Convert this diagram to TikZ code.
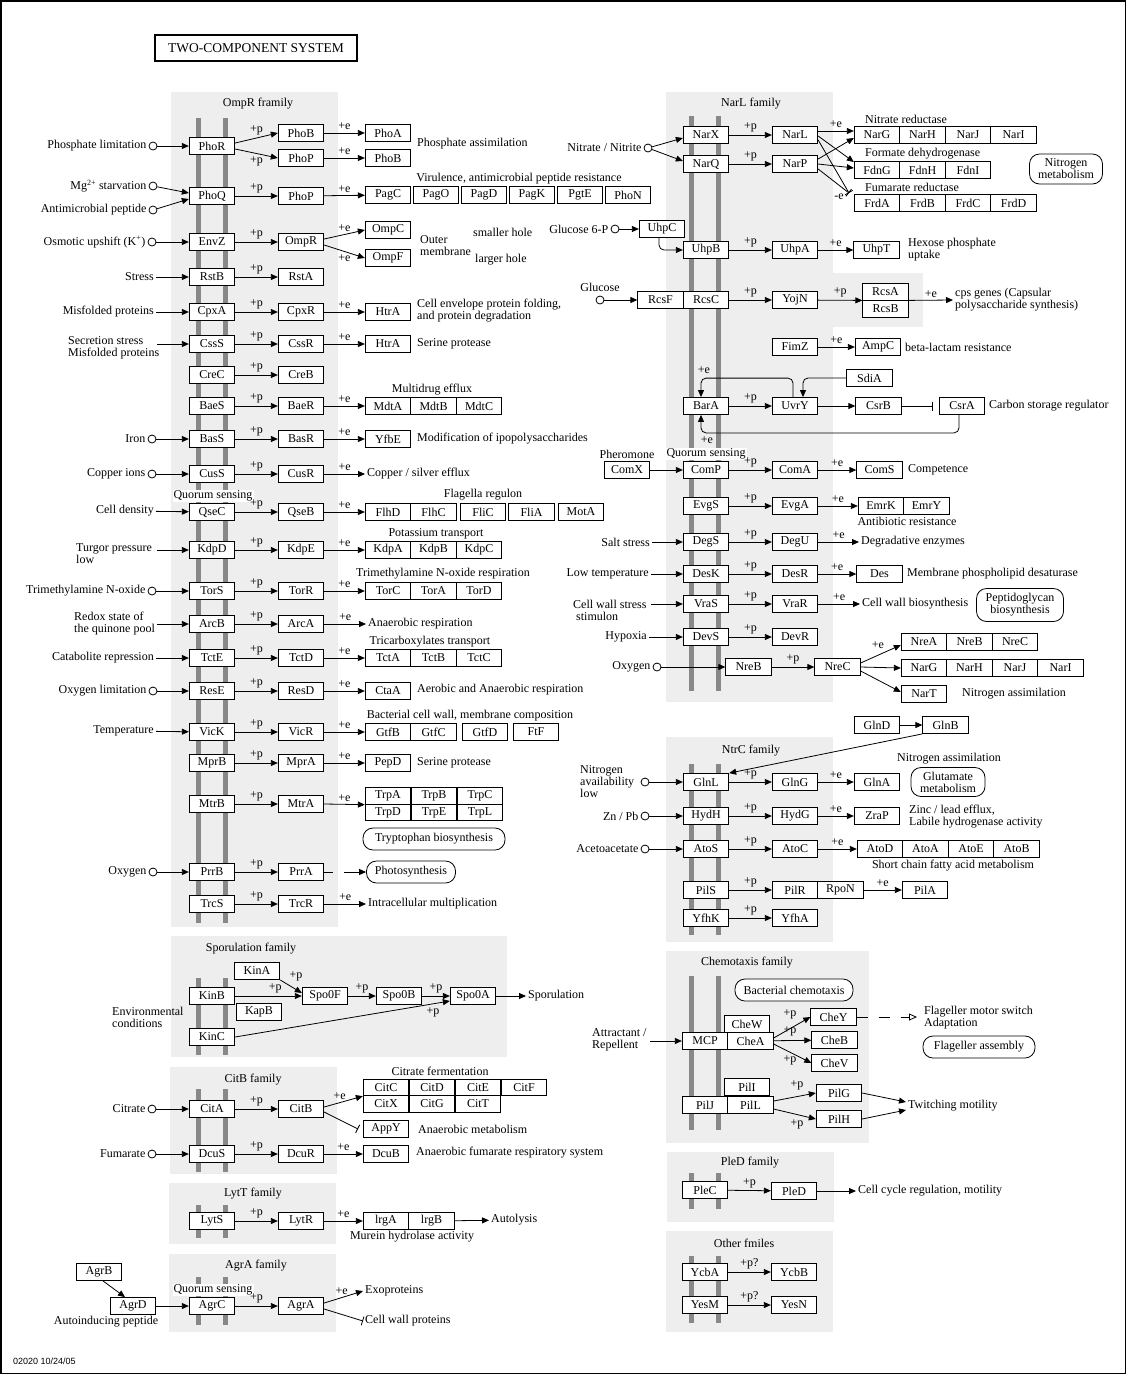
\documentclass[tikz,border=0pt]{standalone}
\usepackage{fontspec}
\setmainfont{Liberation Serif}
\newfontfamily\datefont{Liberation Sans}
\usetikzlibrary{arrows.meta, positioning, calc}
\definecolor{panelgray}{HTML}{EEEEEE}
\definecolor{bargray}{HTML}{888888}
\newcommand{\kfont}{\fontsize{12}{12}\selectfont}

\begin{document}
\begin{tikzpicture}[x=1pt, y=-1pt,
    gene/.style={rectangle, draw, fill=white, line width=0.8pt, minimum width=45.5, minimum height=17, inner sep=0pt, font=\kfont},
    mapbox/.style={rectangle, draw, fill=white, line width=0.8pt, rounded corners=10pt, inner sep=0pt, align=center, font=\kfont},
    stim/.style={circle, draw, fill=white, line width=0.8pt, inner sep=0pt, minimum size=8},
    txt/.style={font=\kfont, inner sep=2pt, align=center},
    ltxt/.style={font=\kfont, inner sep=2pt, anchor=west, align=left},
    rtxt/.style={font=\kfont, inner sep=2pt, anchor=east, align=right},
    lab/.style={font=\kfont, inner sep=1pt},
    qs/.style={font=\kfont, inner sep=1pt, fill=white},
    pp/.style={font=\kfont, inner sep=1pt, above=1.5pt},
    ppb/.style={font=\kfont, inner sep=1pt, below=1.5pt},
    panel/.style={fill=panelgray},
    mem/.style={draw=bargray, line width=5pt},
    act/.style={-{Triangle[length=7pt, width=6pt]}, line width=0.8pt},
    inh/.style={-{Bar[width=9pt]}, line width=0.8pt}
]
\useasboundingbox (0,0) rectangle (1126,1374);
\draw[line width=1.5pt] (0.75,0.75) rectangle (1125.25,1373.25);

% Title
\node[draw, line width=1.5pt, minimum width=202, minimum height=26, font=\fontsize{13.5}{14}\selectfont] (title) at (256,48) {TWO-COMPONENT SYSTEM};

% ---------- OmpR family ----------
\fill[panel] (171,92) rectangle (338,927);
\node[lab] (f-ompr) at (258,104) {OmpR framily};
\draw[mem] (198,118) -- (198,923);
\draw[mem] (225,118) -- (225,923);

% PhoR / PhoB, PhoP
\node[gene] (PhoR) at (212,146) {PhoR};
\node[gene] (PhoB) at (301,133) {PhoB};
\node[gene] (PhoP) at (301,158) {PhoP};
\node[gene] (PhoA) at (388,133) {PhoA};
\node[gene] (PhoB-t) at (388,158) {PhoB};
\node[stim] (c-phos) at (153,146) {};
\node[rtxt] (s-phos) at (c-phos.west) {Phosphate limitation};
\draw[act] (c-phos) -- (PhoR);
\draw[act] ($(PhoR.east)+(0,-3)$) -- node[pp]{+p} (PhoB.west);
\draw[act] ($(PhoR.east)+(0,3)$) -- node[ppb]{+p} (PhoP.west);
\draw[act] (PhoB) -- node[pp]{+e} (PhoA);
\draw[act] (PhoP) -- node[pp]{+e} (PhoB-t);
\node[ltxt] (t-phos) at (415,144) {Phosphate assimilation};

% PhoQ / PhoP
\node[gene] (PhoQ) at (212,196) {PhoQ};
\node[gene] (PhoP-2) at (301,196) {PhoP};
\foreach \g [count=\i from 0] in {PagC,PagO,PagD,PagK,PgtE,PhoN}
  \node[gene] (\g) at (388+48*\i,195) {\g};
\node[stim] (c-mg) at (153,186) {};
\node[rtxt] (s-mg) at (c-mg.west) {Mg\textsuperscript{2+} starvation};
\node[stim] (c-amp) at (153,210) {};
\node[rtxt] (s-amp) at (c-amp.west) {Antimicrobial peptide};
\draw[act] (c-mg) -- ($(PhoQ.west)+(0,-3)$);
\draw[act] (c-amp) -- ($(PhoQ.west)+(0,3)$);
\draw[act] (PhoQ) -- node[pp]{+p} (PhoP-2);
\draw[act] (PhoP-2) -- node[pp]{+e} (PagC);
\node[txt] (t-vir) at (519,179) {Virulence, antimicrobial peptide resistance};

% EnvZ / OmpR
\node[gene] (EnvZ) at (212,242) {EnvZ};
\node[gene] (OmpR) at (301,242) {OmpR};
\node[gene] (OmpC) at (388,230) {OmpC};
\node[gene] (OmpF) at (388,258) {OmpF};
\node[stim] (c-osm) at (152,242) {};
\node[rtxt] (s-osm) at (c-osm.west) {Osmotic upshift (K\textsuperscript{+})};
\draw[act] (c-osm) -- (EnvZ);
\draw[act] (EnvZ) -- node[pp]{+p} (OmpR);
\draw[act] ($(OmpR.east)+(0,-3)$) -- node[pp]{+e} (OmpC.west);
\draw[act] ($(OmpR.east)+(0,3)$) -- node[ppb]{+e} (OmpF.west);
\node[ltxt] (t-outer) at (418,246) {Outer\\membrane};
\node[ltxt] (t-small) at (471,232) {smaller hole};
\node[ltxt] (t-large) at (473,260) {larger hole};

% RstB / RstA
\node[gene] (RstB) at (212,277) {RstB};
\node[gene] (RstA) at (301,277) {RstA};
\node[rtxt] (s-stress) at (156,277) {Stress};
\draw[act] (s-stress) -- (RstB);
\draw[act] (RstB) -- node[pp]{+p} (RstA);

% CpxA / CpxR
\node[gene] (CpxA) at (212,312) {CpxA};
\node[gene] (CpxR) at (301,312) {CpxR};
\node[gene] (HtrA) at (388,312) {HtrA};
\node[rtxt] (s-misf) at (156,312) {Misfolded proteins};
\draw[act] (s-misf) -- (CpxA);
\draw[act] (CpxA) -- node[pp]{+p} (CpxR);
\draw[act] (CpxR) -- node[pp]{+e} (HtrA);
\node[ltxt] (t-cpx) at (415,311) {Cell envelope protein folding,\\and protein degradation};

% CssS / CssR
\node[gene] (CssS) at (212,344) {CssS};
\node[gene] (CssR) at (301,344) {CssR};
\node[gene] (HtrA-2) at (388,344) {HtrA};
\node[ltxt] (s-secr) at (66,348) {Secretion stress\\Misfolded proteins};
\coordinate (secr-out) at (157,344);
\draw[act] (secr-out) -- (CssS);
\draw[act] (CssS) -- node[pp]{+p} (CssR);
\draw[act] (CssR) -- node[pp]{+e} (HtrA-2);
\node[ltxt] (t-css) at (415,344) {Serine protease};

% CreC / CreB
\node[gene] (CreC) at (212,375) {CreC};
\node[gene] (CreB) at (301,375) {CreB};
\draw[act] (CreC) -- node[pp]{+p} (CreB);

% BaeS / BaeR
\node[gene] (BaeS) at (212,406) {BaeS};
\node[gene] (BaeR) at (301,406) {BaeR};
\foreach \g [count=\i from 0] in {MdtA,MdtB,MdtC}
  \node[gene] (\g) at (388+45.5*\i,406) {\g};
\node[lab] (t-mdt) at (432,390) {Multidrug efflux};
\draw[act] (BaeS) -- node[pp]{+p} (BaeR);
\draw[act] (BaeR) -- node[pp]{+e} (MdtA);

% BasS / BasR
\node[gene] (BasS) at (212,439) {BasS};
\node[gene] (BasR) at (301,439) {BasR};
\node[gene] (YfbE) at (388,439) {YfbE};
\node[stim] (c-iron) at (152,439) {};
\node[rtxt] (s-iron) at (c-iron.west) {Iron};
\draw[act] (c-iron) -- (BasS);
\draw[act] (BasS) -- node[pp]{+p} (BasR);
\draw[act] (BasR) -- node[pp]{+e} (YfbE);
\node[ltxt] (t-bas) at (415,439) {Modification of ipopolysaccharides};

% CusS / CusR
\node[gene] (CusS) at (212,474) {CusS};
\node[gene] (CusR) at (301,474) {CusR};
\node[stim] (c-cu) at (152,474) {};
\node[rtxt] (s-cu) at (c-cu.west) {Copper ions};
\node[ltxt] (t-cus) at (365,474) {Copper / silver efflux};
\draw[act] (c-cu) -- (CusS);
\draw[act] (CusS) -- node[pp]{+p} (CusR);
\draw[act] (CusR) -- node[pp]{+e} (t-cus);

% QseC / QseB
\node[gene] (QseC) at (212,512) {QseC};
\node[gene] (QseB) at (301,512) {QseB};
\node[qs] (q-qse) at (213,496) {Quorum sensing};
\node[gene] (FlhD) at (388,512) {FlhD};
\node[gene] (FlhC) at (433.5,512) {FlhC};
\node[gene] (FliC) at (483,512) {FliC};
\node[gene] (FliA) at (531.5,512) {FliA};
\node[gene] (MotA) at (581,512) {MotA};
\node[lab] (t-fla) at (483,495) {Flagella regulon};
\node[rtxt] (s-cell) at (156,511) {Cell density};
\draw[act] (s-cell) -- (QseC);
\draw[act] (QseC) -- node[pp]{+p} (QseB);
\draw[act] (QseB) -- node[pp]{+e} (FlhD);

% KdpD / KdpE
\node[gene] (KdpD) at (212,550) {KdpD};
\node[gene] (KdpE) at (301,550) {KdpE};
\foreach \g [count=\i from 0] in {KdpA,KdpB,KdpC}
  \node[gene] (\g) at (388+45.5*\i,550) {\g};
\node[lab] (t-kdp) at (436,534) {Potassium transport};
\node[ltxt] (s-turg) at (74,554) {Turgor pressure\\low};
\coordinate (turg-out) at (157,550);
\draw[act] (turg-out) -- (KdpD);
\draw[act] (KdpD) -- node[pp]{+p} (KdpE);
\draw[act] (KdpE) -- node[pp]{+e} (KdpA);

% TorS / TorR
\node[gene] (TorS) at (212,591) {TorS};
\node[gene] (TorR) at (301,591) {TorR};
\foreach \g [count=\i from 0] in {TorC,TorA,TorD}
  \node[gene] (\g) at (388+45.5*\i,591) {\g};
\node[lab] (t-tor) at (443,574) {Trimethylamine N-oxide respiration};
\node[stim] (c-tmao) at (152,591) {};
\node[rtxt] (s-tmao) at (c-tmao.west) {Trimethylamine N-oxide};
\draw[act] (c-tmao) -- (TorS);
\draw[act] (TorS) -- node[pp]{+p} (TorR);
\draw[act] (TorR) -- node[pp]{+e} (TorC);

% ArcB / ArcA
\node[gene] (ArcB) at (212,624) {ArcB};
\node[gene] (ArcA) at (301,624) {ArcA};
\node[ltxt] (s-redox) at (72,624) {Redox state of\\the quinone pool};
\coordinate (redox-out) at (157,624);
\node[ltxt] (t-arc) at (366,624) {Anaerobic respiration};
\draw[act] (redox-out) -- (ArcB);
\draw[act] (ArcB) -- node[pp]{+p} (ArcA);
\draw[act] (ArcA) -- node[pp]{+e} (t-arc);

% TctE / TctD
\node[gene] (TctE) at (212,658) {TctE};
\node[gene] (TctD) at (301,658) {TctD};
\foreach \g [count=\i from 0] in {TctA,TctB,TctC}
  \node[gene] (\g) at (388+45.5*\i,658) {\g};
\node[lab] (t-tct) at (430,642) {Tricarboxylates transport};
\node[rtxt] (s-cat) at (156,658) {Catabolite repression};
\draw[act] (s-cat) -- (TctE);
\draw[act] (TctE) -- node[pp]{+p} (TctD);
\draw[act] (TctD) -- node[pp]{+e} (TctA);

% ResE / ResD
\node[gene] (ResE) at (212,691) {ResE};
\node[gene] (ResD) at (301,691) {ResD};
\node[gene] (CtaA) at (388,691) {CtaA};
\node[stim] (c-oxl) at (153,691) {};
\node[rtxt] (s-oxl) at (c-oxl.west) {Oxygen limitation};
\draw[act] (c-oxl) -- (ResE);
\draw[act] (ResE) -- node[pp]{+p} (ResD);
\draw[act] (ResD) -- node[pp]{+e} (CtaA);
\node[ltxt] (t-res) at (415,690) {Aerobic and Anaerobic respiration};

% VicK / VicR
\node[gene] (VicK) at (212,732) {VicK};
\node[gene] (VicR) at (301,732) {VicR};
\node[gene] (GtfB) at (388,732) {GtfB};
\node[gene] (GtfC) at (433.5,732) {GtfC};
\node[gene] (GtfD) at (485,732) {GtfD};
\node[gene] (FtF) at (536,732) {FtF};
\node[lab] (t-gtf) at (470,716) {Bacterial cell wall, membrane composition};
\node[rtxt] (s-temp) at (156,731) {Temperature};
\draw[act] (s-temp) -- (VicK);
\draw[act] (VicK) -- node[pp]{+p} (VicR);
\draw[act] (VicR) -- node[pp]{+e} (GtfB);

% MprB / MprA
\node[gene] (MprB) at (212,763) {MprB};
\node[gene] (MprA) at (301,763) {MprA};
\node[gene] (PepD) at (388,763) {PepD};
\draw[act] (MprB) -- node[pp]{+p} (MprA);
\draw[act] (MprA) -- node[pp]{+e} (PepD);
\node[ltxt] (t-mpr) at (415,763) {Serine protease};

% MtrB / MtrA
\node[gene] (MtrB) at (212,804) {MtrB};
\node[gene] (MtrA) at (301,804) {MtrA};
\foreach \g [count=\i from 0] in {TrpA,TrpB,TrpC}
  \node[gene, minimum height=16.5] (\g) at (388+46*\i,796) {\g};
\foreach \g [count=\i from 0] in {TrpD,TrpE,TrpL}
  \node[gene, minimum height=16.5] (\g) at (388+46*\i,812.5) {\g};
\draw[act] (MtrB) -- node[pp]{+p} (MtrA);
\draw[act] (MtrA.east) -- node[pp]{+e} (TrpA.south west);
\node[mapbox, minimum width=142, minimum height=22] (m-trp) at (434,839) {Tryptophan biosynthesis};

% PrrB / PrrA
\node[gene] (PrrB) at (212,872) {PrrB};
\node[gene] (PrrA) at (301,872) {PrrA};
\node[stim] (c-oxy) at (153,872) {};
\node[rtxt] (s-oxy) at (c-oxy.west) {Oxygen};
\node[mapbox, minimum width=89, minimum height=22] (m-photo) at (411,872) {Photosynthesis};
\draw[act] (c-oxy) -- (PrrB);
\draw[act] (PrrB) -- node[pp]{+p} (PrrA);
\draw[act, dash pattern=on 9pt off 11pt on 40pt] (PrrA) -- (m-photo);

% TrcS / TrcR
\node[gene] (TrcS) at (212,904) {TrcS};
\node[gene] (TrcR) at (301,904) {TrcR};
\node[ltxt] (t-trc) at (366,904) {Intracellular multiplication};
\draw[act] (TrcS) -- node[pp]{+p} (TrcR);
\draw[act] (TrcR) -- node[pp]{+e} (t-trc);

% ---------- Sporulation family ----------
\fill[panel] (171,936) rectangle (507,1057);
\node[lab] (f-spo) at (251,949) {Sporulation family};
\draw[mem] (198,978) -- (198,1055);
\draw[mem] (225,978) -- (225,1055);
\node[gene] (KinA) at (257,971) {KinA};
\node[gene] (KinB) at (212,996) {KinB};
\node[gene] (KapB) at (259,1012) {KapB};
\node[gene] (KinC) at (212,1037) {KinC};
\node[gene] (Spo0F) at (325,996) {Spo0F};
\node[gene] (Spo0B) at (399,996) {Spo0B};
\node[gene] (Spo0A) at (473,996) {Spo0A};
\node[ltxt] (t-spo) at (526,996) {Sporulation};
\node[ltxt] (s-env) at (110,1017) {Environmental\\conditions};
\draw[act] (KinA.south east) -- ($(Spo0F.west)+(0,-3)$);
\node[lab] (l-kina) at (296,976) {+p};
\draw[act] (KinB) -- node[pp, pos=0.6]{+p} (Spo0F);
\draw[act] (Spo0F) -- node[pp]{+p} (Spo0B);
\draw[act] (Spo0B) -- node[pp]{+p} (Spo0A);
\draw[act] (KinC.east) -- ($(Spo0A.west)+(0,5)$);
\node[lab] (l-kinc) at (433,1012) {+p};
\draw[act] (Spo0A) -- (t-spo);

% ---------- CitB family ----------
\fill[panel] (170,1067) rectangle (337,1174);
\node[lab] (f-cit) at (253,1080) {CitB family};
\draw[mem] (198,1089) -- (198,1172);
\draw[mem] (225,1089) -- (225,1172);
\node[gene] (CitA) at (212,1109) {CitA};
\node[gene] (CitB) at (301,1109) {CitB};
\foreach \g [count=\i from 0] in {CitC,CitD,CitE,CitF}
  \node[gene, minimum height=16.5] (\g) at (386+46*\i,1087.5) {\g};
\foreach \g [count=\i from 0] in {CitX,CitG,CitT}
  \node[gene, minimum height=16.5] (\g) at (386+46*\i,1104) {\g};
\node[lab] (t-cit) at (440,1071) {Citrate fermentation};
\node[gene] (AppY) at (386,1129) {AppY};
\node[ltxt] (t-appy) at (416,1129) {Anaerobic metabolism};
\node[stim] (c-citr) at (152,1109) {};
\node[rtxt] (s-citr) at (c-citr.west) {Citrate};
\draw[act] (c-citr) -- (CitA);
\draw[act] (CitA) -- node[pp]{+p} (CitB);
\draw[act] ($(CitB.east)+(0,-2)$) -- node[pp, pos=0.4]{+e} (CitC.south west);
\coordinate (appy-in) at (358,1129);
\draw[inh] ($(CitB.east)+(0,3)$) -- (appy-in);
\node[gene] (DcuS) at (212,1154) {DcuS};
\node[gene] (DcuR) at (301,1154) {DcuR};
\node[gene] (DcuB) at (386,1154) {DcuB};
\node[stim] (c-fum) at (152,1154) {};
\node[rtxt] (s-fum) at (c-fum.west) {Fumarate};
\draw[act] (c-fum) -- (DcuS);
\draw[act] (DcuS) -- node[pp]{+p} (DcuR);
\draw[act] (DcuR) -- node[pp]{+e} (DcuB);
\node[ltxt] (t-dcu) at (414,1153) {Anaerobic fumarate respiratory system};

% ---------- LytT family ----------
\fill[panel] (169,1183) rectangle (336,1244);
\node[lab] (f-lyt) at (253,1194) {LytT family};
\draw[mem] (198,1205) -- (198,1238);
\draw[mem] (225,1205) -- (225,1238);
\node[gene] (LytS) at (212,1221) {LytS};
\node[gene] (LytR) at (301,1221) {LytR};
\node[gene] (lrgA) at (386,1221) {lrgA};
\node[gene] (lrgB) at (431.5,1221) {lrgB};
\node[ltxt] (t-auto) at (489,1220) {Autolysis};
\node[lab] (t-mur) at (412,1237) {Murein hydrolase activity};
\draw[act] (LytS) -- node[pp]{+p} (LytR);
\draw[act] (LytR) -- node[pp]{+e} (lrgA);
\draw[act] (lrgB) -- (t-auto);

% ---------- AgrA family ----------
\fill[panel] (169,1254) rectangle (336,1332);
\node[lab] (f-agr) at (256,1266) {AgrA family};
\draw[mem] (198,1277) -- (198,1325);
\draw[mem] (225,1277) -- (225,1325);
\node[gene] (AgrC) at (212,1306) {AgrC};
\node[gene] (AgrA) at (301,1306) {AgrA};
\node[qs] (q-agr) at (213,1290) {Quorum sensing};
\node[gene] (AgrB) at (99,1272) {AgrB};
\node[gene] (AgrD) at (133,1306) {AgrD};
\node[lab] (t-aip) at (106,1322) {Autoinducing peptide};
\node[ltxt] (t-exo) at (363,1291) {Exoproteins};
\node[ltxt] (t-cwp) at (363,1321) {Cell wall proteins};
\draw[act] ($(AgrB.south)+(4,0)$) -- ($(AgrD.north)+(-8,0)$);
\draw[act] (AgrD) -- (AgrC);
\draw[act] (AgrC) -- node[pp]{+p} (AgrA);
\draw[act] ($(AgrA.east)+(0,-3)$) -- node[pp, pos=0.45]{+e} (t-exo.west);
\draw[inh] ($(AgrA.east)+(0,3)$) -- (t-cwp.west);

% ---------- NarL family ----------
\fill[panel] (666,92) rectangle (833,702);
\fill[panel] (833,273) rectangle (923,327);
\node[lab] (f-narl) at (751,104) {NarL family};
\draw[mem] (691,116) -- (691,691);
\draw[mem] (718,116) -- (718,691);

% NarX, NarQ / NarL, NarP
\node[gene] (NarX) at (706,135) {NarX};
\node[gene] (NarQ) at (706,164) {NarQ};
\node[gene] (NarL) at (795,135) {NarL};
\node[gene] (NarP) at (795,164) {NarP};
\node[stim] (c-nit) at (648,148) {};
\node[rtxt] (s-nit) at (c-nit.west) {Nitrate / Nitrite};
\draw[act] (c-nit) -- ($(NarX.west)+(0,3)$);
\draw[act] (c-nit) -- ($(NarQ.west)+(0,-3)$);
\draw[act] (NarX) -- node[pp]{+p} (NarL);
\draw[act] (NarQ) -- node[pp]{+p} (NarP);
\foreach \g [count=\i from 0] in {NarG,NarH,NarJ,NarI}
  \node[gene] (\g) at (877+45.5*\i,135) {\g};
\foreach \g [count=\i from 0] in {FdnG,FdnH,FdnI}
  \node[gene] (\g) at (877+45.5*\i,170) {\g};
\foreach \g [count=\i from 0] in {FrdA,FrdB,FrdC,FrdD}
  \node[gene] (\g) at (877+45.5*\i,203) {\g};
\node[ltxt] (t-nar) at (863,119) {Nitrate reductase};
\node[ltxt] (t-fdn) at (863,154) {Formate dehydrogenase};
\node[ltxt] (t-frd) at (863,187) {Fumarate reductase};
\node[mapbox, minimum width=73, minimum height=30] (m-nitro) at (1066,169) {Nitrogen\\metabolism};
\coordinate (frd-in) at (849,193);
\draw[act] ($(NarL.east)+(0,-4)$) -- node[pp]{+e} ($(NarG.west)+(0,-4)$);
\draw[act] ($(NarL.east)+(0,1)$) -- ($(FdnG.west)+(0,-8)$);
\draw[inh] ($(NarL.east)+(0,5)$) -- (frd-in);
\draw[act] ($(NarP.east)+(0,-5)$) -- ($(NarG.west)+(0,3)$);
\draw[act] (NarP.east) -- ($(FdnG.west)+(0,-2)$);
\draw[inh] ($(NarP.east)+(0,5)$) -- (frd-in);
\node[lab] (l-me) at (839,197) {-e};

% UhpC, UhpB / UhpA
\node[gene] (UhpC) at (662,229) {UhpC};
\node[stim] (c-g6p) at (615,229) {};
\node[rtxt] (s-g6p) at (c-g6p.west) {Glucose 6-P};
\node[gene] (UhpB) at (706,250) {UhpB};
\node[gene] (UhpA) at (795,250) {UhpA};
\node[gene] (UhpT) at (876.5,250) {UhpT};
\node[ltxt] (t-uhp) at (906,250) {Hexose phosphate\\uptake};
\draw[act] (c-g6p) -- (UhpC);
\draw[act, rounded corners=5pt] ($(UhpC.south)+(-3,0)$) |- (UhpB.west);
\draw[act] (UhpB) -- node[pp]{+p} (UhpA);
\draw[act] (UhpA) -- node[pp]{+e} (UhpT);

% RcsF, RcsC / YojN / RcsA, RcsB
\node[gene] (RcsF) at (660.5,300) {RcsF};
\node[gene] (RcsC) at (706,300) {RcsC};
\node[stim] (c-glc) at (600,300) {};
\node[lab] (s-glc) at (600,287) {Glucose};
\node[gene] (YojN) at (795,300) {YojN};
\node[gene] (RcsA) at (885.5,291.5) {RcsA};
\node[gene] (RcsB) at (885.5,308.5) {RcsB};
\node[ltxt] (t-cps) at (953,300) {cps genes (Capsular\\polysaccharide synthesis)};
\draw[act] (c-glc) -- (RcsF);
\draw[act] (RcsC) -- node[pp]{+p} (YojN);
\draw[act] (YojN) -- node[pp]{+p} (RcsA.south west);
\draw[act] (RcsA.south east) -- node[pp]{+e} (t-cps.west);

% FimZ
\node[gene] (FimZ) at (795,347) {FimZ};
\node[gene] (AmpC) at (878,347) {AmpC};
\node[ltxt] (t-amp) at (903,347) {beta-lactam resistance};
\draw[act] (FimZ) -- node[pp]{+e} (AmpC);

% BarA / UvrY
\node[gene] (SdiA) at (869.5,378) {SdiA};
\node[gene] (BarA) at (706,406) {BarA};
\node[gene] (UvrY) at (795,406) {UvrY};
\node[gene] (CsrB) at (878.5,406) {CsrB};
\node[gene] (CsrA) at (962,406) {CsrA};
\node[ltxt] (t-csr) at (987,406) {Carbon storage regulator};
\draw[act] (BarA) -- node[pp]{+p} (UvrY);
\draw[act] (UvrY) -- (CsrB);
\draw[inh] (CsrB) -- ($(CsrA.west)+(-6,0)$);
\draw[act, rounded corners=5pt] (SdiA.west) -| ($(UvrY.north)+(8,0)$);
\draw[act, rounded corners=5pt] ($(UvrY.north)+(-2,0)$) |- ($(BarA.north)+(-5,-19)$) -- ($(BarA.north)+(-5,0)$);
\node[lab] (l-uvr) at (704,370) {+e};
\draw[act, rounded corners=5pt] ($(CsrA.south)+(-3,0)$) |- ($(BarA.south)+(-5,18)$) -- ($(BarA.south)+(-5,0)$);
\node[lab] (l-csr) at (707,440) {+e};

% ComX, ComP / ComA
\node[gene] (ComX) at (627,470) {ComX};
\node[lab] (s-pher) at (627,454) {Pheromone};
\node[gene] (ComP) at (706,470) {ComP};
\node[qs] (q-com) at (706,454) {Quorum sensing};
\node[gene] (ComA) at (795,470) {ComA};
\node[gene] (ComS) at (879.5,470) {ComS};
\node[ltxt] (t-com) at (906,470) {Competence};
\draw[act] (ComX) -- (ComP);
\draw[act] (ComP) -- node[pp]{+p} (ComA);
\draw[act] (ComA) -- node[pp]{+e} (ComS);

% EvgS / EvgA
\node[gene] (EvgS) at (706,506) {EvgS};
\node[gene] (EvgA) at (795,506) {EvgA};
\node[gene] (EmrK) at (881,506) {EmrK};
\node[gene] (EmrY) at (926.5,506) {EmrY};
\node[lab] (t-emr) at (907,521) {Antibiotic resistance};
\draw[act] (EvgS) -- node[pp]{+p} (EvgA);
\draw[act] (EvgA) -- node[pp]{+e} (EmrK);

% DegS / DegU
\node[gene] (DegS) at (706,542) {DegS};
\node[gene] (DegU) at (795,542) {DegU};
\node[rtxt] (s-salt) at (652,542) {Salt stress};
\node[ltxt] (t-deg) at (859,542) {Degradative enzymes};
\draw[act] (s-salt) -- (DegS);
\draw[act] (DegS) -- node[pp]{+p} (DegU);
\draw[act] (DegU) -- node[pp]{+e} (t-deg);

% DesK / DesR
\node[gene] (DesK) at (706,574) {DesK};
\node[gene] (DesR) at (795,574) {DesR};
\node[gene] (Des) at (879.5,574) {Des};
\node[rtxt] (s-lowt) at (651,574) {Low temperature};
\node[ltxt] (t-des) at (905,574) {Membrane phospholipid desaturase};
\draw[act] (s-lowt) -- (DesK);
\draw[act] (DesK) -- node[pp]{+p} (DesR);
\draw[act] (DesR) -- node[pp]{+e} (Des);

% VraS / VraR
\node[gene] (VraS) at (706,604) {VraS};
\node[gene] (VraR) at (795,604) {VraR};
\node[ltxt] (s-cws) at (571,610) {Cell wall stress\\\hspace{3pt}stimulon};
\coordinate (cws-out) at (651,604);
\node[ltxt] (t-vra) at (860,604) {Cell wall biosynthesis};
\node[mapbox, minimum width=87, minimum height=33] (m-pep) at (1020,605) {Peptidoglycan\\biosynthesis};
\draw[act] (cws-out) -- (VraS);
\draw[act] (VraS) -- node[pp]{+p} (VraR);
\draw[act] (VraR) -- node[pp]{+e} (t-vra);

% DevS / DevR
\node[gene] (DevS) at (706,637) {DevS};
\node[gene] (DevR) at (795,637) {DevR};
\node[rtxt] (s-hyp) at (649,637) {Hypoxia};
\draw[act] (s-hyp) -- (DevS);
\draw[act] (DevS) -- node[pp]{+p} (DevR);

% NreB / NreC
\node[stim] (c-oxn) at (657,667) {};
\node[rtxt] (s-oxn) at (c-oxn.west) {Oxygen};
\node[gene] (NreB) at (748.5,667) {NreB};
\node[gene] (NreC) at (837.5,667) {NreC};
\foreach \g [count=\i from 0] in {NreA,NreB,NreC}
  \node[gene] (\g-2) at (924+45.5*\i,642) {\g};
\foreach \g [count=\i from 0] in {NarG,NarH,NarJ,NarI}
  \node[gene] (\g-2) at (924+45.5*\i,668) {\g};
\node[gene] (NarT) at (924,694) {NarT};
\node[ltxt] (t-nre) at (960,694) {Nitrogen assimilation};
\draw[act] (c-oxn) -- (NreB);
\draw[act] (NreB) -- node[pp]{+p} (NreC);
\draw[act] ($(NreC.east)+(0,-4)$) -- ($(NreA-2.west)+(0,3)$);
\node[lab] (l-nre) at (878,645) {+e};
\draw[act] (NreC.east) -- (NarG-2.west);
\draw[act] ($(NreC.east)+(0,4)$) -- ($(NarT.west)+(0,-2)$);

% GlnD, GlnB
\node[gene] (GlnD) at (877,725) {GlnD};
\node[gene] (GlnB) at (945.5,725) {GlnB};
\draw[act] (GlnD) -- (GlnB);

% ---------- NtrC family ----------
\fill[panel] (666,737) rectangle (833,942);
\node[lab] (f-ntrc) at (751,751) {NtrC family};
\draw[mem] (691,764) -- (691,935);
\draw[mem] (718,764) -- (718,935);

\node[gene] (GlnL) at (706,782) {GlnL};
\node[gene] (GlnG) at (795,782) {GlnG};
\node[gene] (GlnA) at (877,782) {GlnA};
\node[stim] (c-nav) at (645,782) {};
\node[ltxt] (s-nav) at (578,782) {Nitrogen\\availability\\low};
\node[lab] (t-gln) at (949,759) {Nitrogen assimilation};
\node[mapbox, minimum width=74, minimum height=29] (m-glu) at (948,782) {Glutamate\\metabolism};
\draw[act] (GlnB.south west) -- (GlnL.north east);
\draw[act] (c-nav) -- (GlnL);
\draw[act] (GlnL) -- node[pp]{+p} (GlnG);
\draw[act] (GlnG) -- node[pp]{+e} (GlnA);

\node[gene] (HydH) at (706,816) {HydH};
\node[gene] (HydG) at (795,816) {HydG};
\node[gene] (ZraP) at (877,816) {ZraP};
\node[stim] (c-zn) at (645,816) {};
\node[rtxt] (s-zn) at (c-zn.west) {Zn / Pb};
\node[ltxt] (t-zra) at (907,817) {Zinc / lead efflux,\\Labile hydrogenase activity};
\draw[act] (c-zn) -- (HydH);
\draw[act] (HydH) -- node[pp]{+p} (HydG);
\draw[act] (HydG) -- node[pp]{+e} (ZraP);

\node[gene] (AtoS) at (706,849) {AtoS};
\node[gene] (AtoC) at (795,849) {AtoC};
\foreach \g [count=\i from 0] in {AtoD,AtoA,AtoE,AtoB}
  \node[gene] (\g) at (880+45.5*\i,849) {\g};
\node[stim] (c-aceto) at (645,849) {};
\node[rtxt] (s-aceto) at (c-aceto.west) {Acetoacetate};
\node[lab] (t-ato) at (953,866) {Short chain fatty acid metabolism};
\draw[act] (c-aceto) -- (AtoS);
\draw[act] (AtoS) -- node[pp]{+p} (AtoC);
\draw[act] (AtoC) -- node[pp]{+e} (AtoD);

\node[gene] (PilS) at (706,890) {PilS};
\node[gene] (PilR) at (795,890) {PilR};
\node[gene] (RpoN) at (840.5,890) {RpoN};
\node[gene] (PilA) at (925,890) {PilA};
\draw[act] (PilS) -- node[pp]{+p} (PilR);
\draw[act] (RpoN) -- node[pp]{+e} (PilA);

\node[gene] (YfhK) at (706,918) {YfhK};
\node[gene] (YfhA) at (795,918) {YfhA};
\draw[act] (YfhK) -- node[pp]{+p} (YfhA);

% ---------- Chemotaxis family ----------
\fill[panel] (666,951) rectangle (869,1143);
\node[lab] (f-che) at (747,963) {Chemotaxis family};
\draw[mem] (691,976) -- (691,1130);
\draw[mem] (718,976) -- (718,1130);
\node[mapbox, minimum width=118, minimum height=22] (m-chem) at (794,990) {Bacterial chemotaxis};
\node[gene] (CheW) at (747,1024) {CheW};
\node[gene] (MCP) at (705,1041) {MCP};
\node[gene] (CheA) at (750.5,1041) {CheA};
\node[gene] (CheY) at (833.5,1017) {CheY};
\node[gene] (CheB) at (834.5,1040) {CheB};
\node[gene] (CheV) at (834.5,1063) {CheV};
\node[ltxt] (s-attr) at (590,1040) {Attractant /\\Repellent};
\coordinate (attr-out) at (650,1041);
\draw[act] (attr-out) -- (MCP);
\draw[act] ($(CheA.east)+(0,-3)$) -- (CheY.west);
\draw[act] (CheA) -- (CheB);
\draw[act] ($(CheA.east)+(0,3)$) -- (CheV.west);
\node[lab] (l-chey) at (790,1014) {+p};
\node[lab] (l-cheb) at (790,1031) {+p};
\node[lab] (l-chev) at (790,1060) {+p};
\node[ltxt] (t-flag) at (922,1018) {Flageller motor switch\\Adaptation};
\coordinate (flag-in) at (917,1017);
\draw[line width=0.8pt, dash pattern=on 11pt off 11pt, -{Triangle[open, length=8pt, width=7pt]}] (CheY) -- (flag-in);
\node[mapbox, minimum width=112, minimum height=22] (m-flag) at (979,1047) {Flageller assembly};

\node[gene] (PilI) at (747,1087) {PilI};
\node[gene] (PilJ) at (705,1105) {PilJ};
\node[gene] (PilL) at (750.5,1105) {PilL};
\node[gene] (PilG) at (839,1093) {PilG};
\node[gene] (PilH) at (839,1119) {PilH};
\node[ltxt] (t-twit) at (906,1106) {Twitching motility};
\draw[act] ($(PilL.east)+(0,-4)$) -- (PilG.west);
\draw[act] ($(PilL.east)+(0,4)$) -- (PilH.west);
\node[lab] (l-pilg) at (797,1085) {+p};
\node[lab] (l-pilh) at (797,1124) {+p};
\draw[act] (PilG.east) -- ($(t-twit.west)+(0,-4)$);
\draw[act] (PilH.east) -- ($(t-twit.west)+(0,4)$);

% ---------- PleD family ----------
\fill[panel] (667,1152) rectangle (834,1222);
\node[lab] (f-pled) at (750,1163) {PleD family};
\draw[mem] (691,1173) -- (691,1209);
\draw[mem] (718,1173) -- (718,1209);
\node[gene] (PleC) at (705,1190) {PleC};
\node[gene] (PleD) at (794,1191) {PleD};
\node[ltxt] (t-pled) at (856,1191) {Cell cycle regulation, motility};
\draw[act] (PleC) -- node[pp]{+p} (PleD);
\draw[act] (PleD) -- (t-pled);

% ---------- Other families ----------
\fill[panel] (666,1231) rectangle (833,1332);
\node[lab] (f-other) at (744,1243) {Other fmiles};
\draw[mem] (691,1256) -- (691,1323);
\draw[mem] (718,1256) -- (718,1323);
\node[gene] (YcbA) at (705,1272) {YcbA};
\node[gene] (YcbB) at (794,1272) {YcbB};
\node[gene] (YesM) at (705,1305) {YesM};
\node[gene] (YesN) at (794,1305) {YesN};
\draw[act] (YcbA) -- node[pp]{+p?} (YcbB);
\draw[act] (YesM) -- node[pp]{+p?} (YesN);

% Footer
\node[anchor=west, inner sep=0pt, font=\datefont\fontsize{9}{10}\selectfont] (date) at (13,1361) {02020 10/24/05};
\end{tikzpicture}
\end{document}
